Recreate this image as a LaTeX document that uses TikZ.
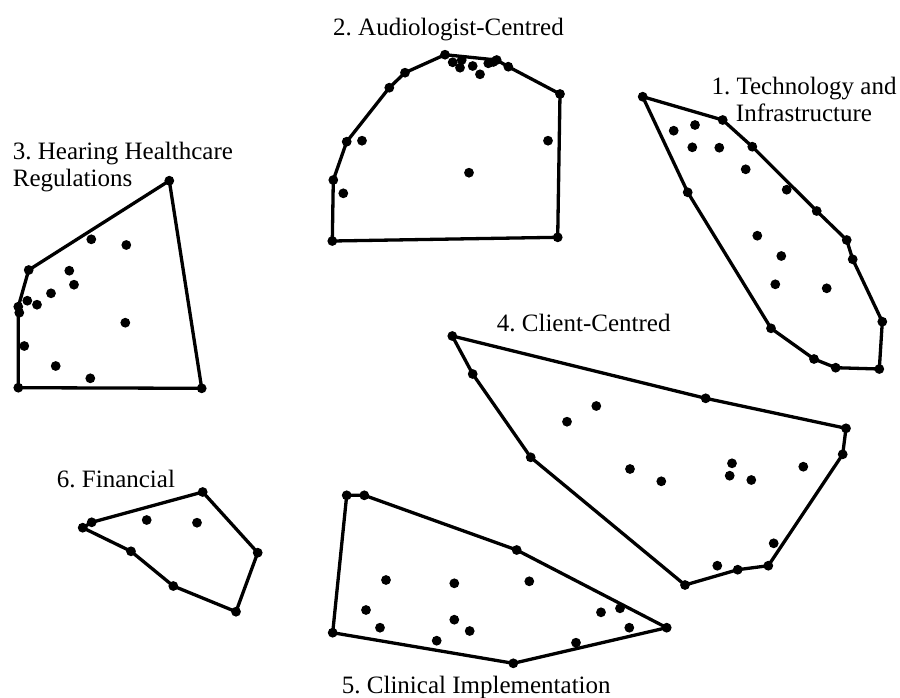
\documentclass[tikz,border=0pt]{standalone}
\usepackage{fontspec}
\setmainfont{Liberation Serif}
\usepackage{tikz}
\frenchspacing

\begin{document}
\begin{tikzpicture}[x=1pt, y=-1pt,
  hull/.style={line width=3.3pt, line join=round},
  every node/.style={font=\fontsize{25}{27}\selectfont, inner sep=0pt}]
  \useasboundingbox (0,0) rectangle (900,697);

  % 1. Technology and Infrastructure
  \draw[hull] (642.7,96.7) -- (722.7,120) -- (752.3,146.7) -- (816.7,211) -- (846.7,240) -- (852.7,259.3) -- (882.3,321.7) -- (879.3,369) -- (835.7,367.7) -- (814,359) -- (771,328.3) -- (687.7,192.3) -- cycle;
  \foreach \p in {(642.7,96.7),(722.7,120),(752.3,146.7),(816.7,211),(846.7,240),(852.7,259.3),(882.3,321.7),(879.3,369),(835.7,367.7),(814,359),(771,328.3),(687.7,192.3),
    (673.7,130.7),(695,125),(692.3,147.3),(719.3,147.7),(745.7,169.3),(786.7,189.7),(757.3,235.7),(781.3,256),(775.3,284.3),(826.7,288.3)}
    \fill \p circle (4.9pt);
  \node[anchor=base, align=center] (techlbl) at (804,121) {1. Technology and\\Infrastructure};

  % 2. Audiologist-Centred
  \draw[hull] (332.3,241) -- (333.3,180) -- (346.7,141.7) -- (389.3,87.7) -- (405,72.7) -- (445,54.7) -- (496.7,60) -- (508.3,66.7) -- (560,94) -- (557.7,237.3) -- cycle;
  \foreach \p in {(332.3,241),(333.3,180),(346.7,141.7),(389.3,87.7),(405,72.7),(445,54.7),(496.7,60),(508.3,66.7),(560,94),(557.7,237.3),
    (452.7,62.3),(461.7,60),(460,67.7),(472.7,66),(480,74.3),(488.3,63.3),(493.3,62),(362,140.7),(343.3,193.3),(469,172.7),(548,140.7)}
    \fill \p circle (4.9pt);
  \node[anchor=base west] (audlbl) at (333,35) {2. Audiologist-Centred};

  % 3. Hearing Healthcare Regulations
  \draw[hull] (18.3,387.7) -- (201.7,388.3) -- (169.3,180.7) -- (28.7,270) -- (18.3,306.7) -- cycle;
  \foreach \p in {(18.3,387.7),(201.7,388.3),(169.3,180.7),(28.7,270),(18.3,306.7),
    (19.3,312.7),(27.3,300.7),(37,304.7),(51,293.3),(69.3,270.7),(74,284.7),(91.3,239.3),(126.3,245),(125.3,322.7),(24.3,346),(55.7,366),(90.3,378.3)}
    \fill \p circle (4.9pt);
  \node[anchor=base west, align=left] (reglbl) at (12.7,186) {3. Hearing Healthcare\\Regulations};

  % 4. Client-Centred
  \draw[hull] (452.3,336) -- (705.7,398.3) -- (846,428.3) -- (842.7,454.3) -- (768.3,565.7) -- (737.7,569.7) -- (685,585) -- (530.7,457.3) -- (472.7,374) -- cycle;
  \foreach \p in {(452.3,336),(705.7,398.3),(846,428.3),(842.7,454.3),(768.3,565.7),(737.7,569.7),(685,585),(530.7,457.3),(472.7,374),
    (596.3,406),(567,421.7),(630,469),(661.3,481.3),(732,463.3),(729.7,475.7),(751.3,480),(803.3,466.7),(773.7,543.3),(717.3,565.7)}
    \fill \p circle (4.9pt);
  \node[anchor=base west] (clilbl) at (496.7,331) {4. Client-Centred};

  % 5. Clinical Implementation
  \draw[hull] (346.7,495.3) -- (364.3,495.3) -- (516.7,550) -- (666.7,627.7) -- (513.3,663.3) -- (332.7,632.7) -- cycle;
  \foreach \p in {(346.7,495.3),(364.3,495.3),(516.7,550),(666.7,627.7),(513.3,663.3),(332.7,632.7),
    (386,580),(454.3,583.3),(529.3,581.3),(366,610),(380,627.7),(454.3,619.7),(469.7,631),(436.7,640.7),(576,642.7),(601,612.3),(620,608.3),(629.3,627.7)}
    \fill \p circle (4.9pt);
  \node[anchor=base west] (impllbl) at (341.7,693.3) {5. Clinical Implementation};

  % 6. Financial
  \draw[hull] (82.7,527.7) -- (91.7,522.3) -- (202.7,492) -- (257.7,552.7) -- (236,611.7) -- (173.3,586) -- (131,551.3) -- cycle;
  \foreach \p in {(82.7,527.7),(91.7,522.3),(202.7,492),(257.7,552.7),(236,611.7),(173.3,586),(131,551.3),
    (146.7,520),(197,522.7)}
    \fill \p circle (4.9pt);
  \node[anchor=base west] (finlbl) at (56.7,487.3) {6. Financial};
\end{tikzpicture}
\end{document}
